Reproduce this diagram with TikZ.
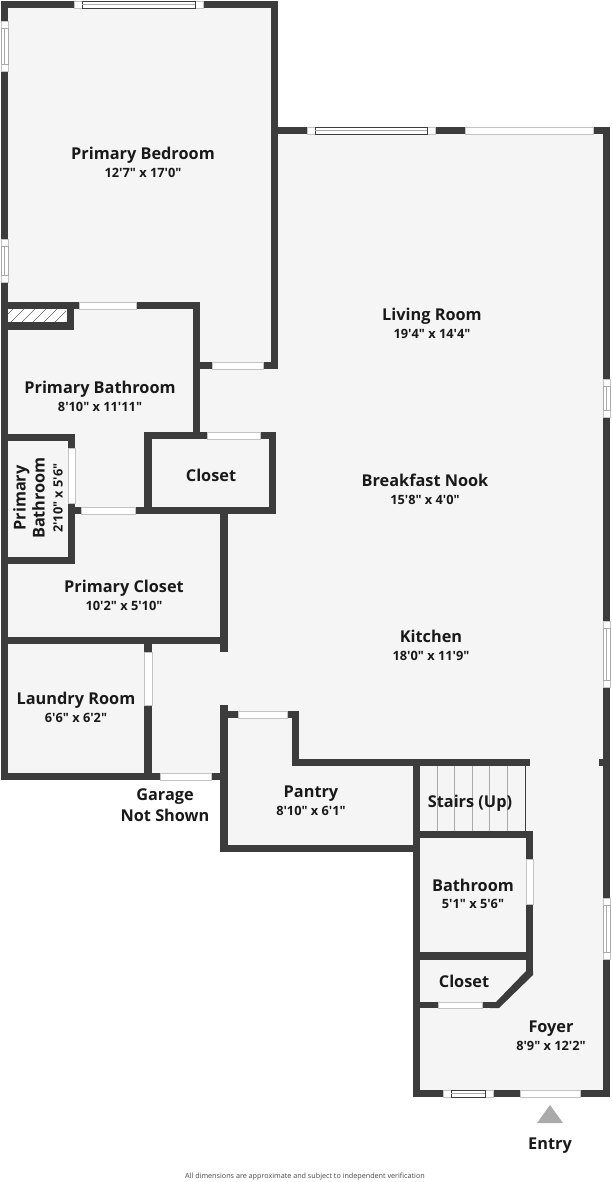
\documentclass[tikz,border=0pt]{standalone}
\usepackage{fontspec}
\setmainfont{Open Sans}[Ligatures=TeXOff]
\definecolor{wall}{RGB}{60,60,60}
\definecolor{floor}{RGB}{245,245,245}
\definecolor{pane}{RGB}{170,170,170}
\definecolor{ink}{RGB}{25,25,25}
\tikzset{
	wallpart/.style={fill=wall, draw=none},
	opening/.style={fill=white, draw=pane!70, line width=0.4pt},
	room/.style={font=\fontsize{16.3}{19}\selectfont\bfseries, text=ink, align=center, inner sep=0pt, anchor=base},
	size/.style={font=\fontsize{12.8}{15}\selectfont\bfseries, text=ink, align=center, inner sep=0pt, anchor=base},
}
\begin{document}
\begin{tikzpicture}[x=1pt,y=-1pt]
	\useasboundingbox (0,0) rectangle (611,1182);

	% floor
	\fill[floor] (4,4) -- (274,4) -- (274,130) -- (606,130) -- (606,1094) -- (416,1094) -- (416,849) -- (224,849) -- (224,777) -- (4,777) -- cycle;

	% outer walls
	\foreach \x/\y/\w/\h in {1/1/277/7, 1/1/7/779, 271/1/7/368, 197/362/81/7, 1/302/198/7, 193/302/7/137,
		1/322/73/8, 67/302/7/28, 1/434/74/7, 68/434/7/130, 1/557/74/7, 68/507/13/7,
		135/507/141/7, 144/432/8/82, 144/432/132/7, 269/432/7/82, 220/507/8/145, 1/637/227/7,
		144/637/8/143, 1/773/227/7, 220/705/8/147, 220/711/79/7, 292/711/7/55, 292/759/238/7,
		413/759/7/338, 220/845/200/7, 417/831/116/7, 526/831/7/142, 417/952/116/8, 417/1002/82/6,
		413/1090/197/7, 603/127/7/970, 599/759/7/7, 278/127/332/7}
		\fill[wallpart] (\x,\y) rectangle ++(\w,\h);
	\fill[wallpart] (526,971) -- (533,971) -- (533,975) -- (499,1008) -- (490,1008) -- (490,1002) -- (496,1002) -- cycle;

	% hatched store
	\fill[white] (8,309) rectangle (66,322);
	\begin{scope}
		\clip (8,309) rectangle (66,322);
		\foreach \x in {0,11,...,77}
			\draw[wall!80, line width=0.5pt] (\x,322) -- ++(13,-13);
	\end{scope}

	% doors and plain openings
	\foreach \x/\y/\w/\h in {79/302/57/7, 212/362/51/7, 68/448/7/55, 81/507/54/7, 207/432/53/7, 160/773/51/7,
		144/652/8/53, 238/711/49/7, 465/127/128/7, 526/859/7/45, 438/1002/44/6, 520/1090/60/7}
		\filldraw[opening] (\x,\y) rectangle ++(\w,\h);

	% windows along x
	\foreach \x/\y/\w in {74/1/129, 307/127/128, 443/1090/50}{
		\filldraw[opening] (\x,\y) rectangle ++(\w,7);
		\draw[wall, line width=0.5pt] (\x+8,\y) rectangle ++(\w-16,7);
		\draw[pane, line width=1.2pt] (\x+8,\y+3.5) -- ++(\w-16,0);
	}
	% windows along y
	\foreach \x/\y/\h in {1/21/50, 1/239/43, 603/379/38, 603/621/66, 603/898/61}{
		\filldraw[opening] (\x,\y) rectangle ++(7,\h);
		\draw[pane, line width=0.5pt] (\x,\y+7) rectangle ++(7,\h-14);
		\draw[pane, line width=0.5pt] (\x+3.5,\y+7) -- ++(0,\h-14);
	}

	% stairs
	\foreach \x in {437,454,472,489,507}
		\draw[pane, line width=0.5pt] (\x,766) -- (\x,831);
	\draw[wall, line width=0.7pt] (525,766) -- (525,831);

	% labels
	\node[room] (bedroom) at (143,160) {Primary Bedroom};
	\node[size] (bedroomsize) at (143,178) {12'7" x 17'0"};
	\node[room] (bathroom) at (100,393) {Primary Bathroom};
	\node[size] (bathroomsize) at (100,411) {8'10" x 11'11"};
	\node[room, rotate=90, anchor=center] (smallbath) at (29,498) {Primary\\Bathroom};
	\node[size, rotate=90, anchor=center] (smallbathsize) at (58,498) {2'10" x 5'6"};
	\node[room] (closet) at (211,481) {Closet};
	\node[room] (wardrobe) at (124,592) {Primary Closet};
	\node[size] (wardrobesize) at (124,610) {10'2" x 5'10"};
	\node[room] (laundry) at (76,704) {Laundry Room};
	\node[size] (laundrysize) at (76,722) {6'6" x 6'2"};
	\node[room] (garage) at (165,800) {Garage};
	\node[room] (notshown) at (165,821) {Not Shown};
	\node[room] (living) at (432,320) {Living Room};
	\node[size] (livingsize) at (432,338) {19'4" x 14'4"};
	\node[room] (nook) at (425,486) {Breakfast Nook};
	\node[size] (nooksize) at (425,504) {15'8" x 4'0"};
	\node[room] (kitchen) at (431,642) {Kitchen};
	\node[size] (kitchensize) at (431,660) {18'0" x 11'9"};
	\node[room] (pantry) at (311,797) {Pantry};
	\node[size] (pantrysize) at (311,815) {8'10" x 6'1"};
	\node[room] (stairs) at (470,807) {Stairs (Up)};
	\node[room] (bath) at (473,891) {Bathroom};
	\node[size] (bathsize) at (473,908) {5'1" x 5'6"};
	\node[room] (foyercloset) at (464,987) {Closet};
	\node[room] (foyer) at (551,1032) {Foyer};
	\node[size] (foyersize) at (551,1050) {8'9" x 12'2"};

	% entry
	\fill[pane] (550,1105) -- (563,1123) -- (537,1123) -- cycle;
	\node[room] (entry) at (550,1149) {Entry};
	\node[font=\fontsize{7.2}{9}\selectfont, text=ink!80, inner sep=0pt] (note) at (305,1177) {All dimensions are approximate and subject to independent verification};
\end{tikzpicture}
\end{document}
